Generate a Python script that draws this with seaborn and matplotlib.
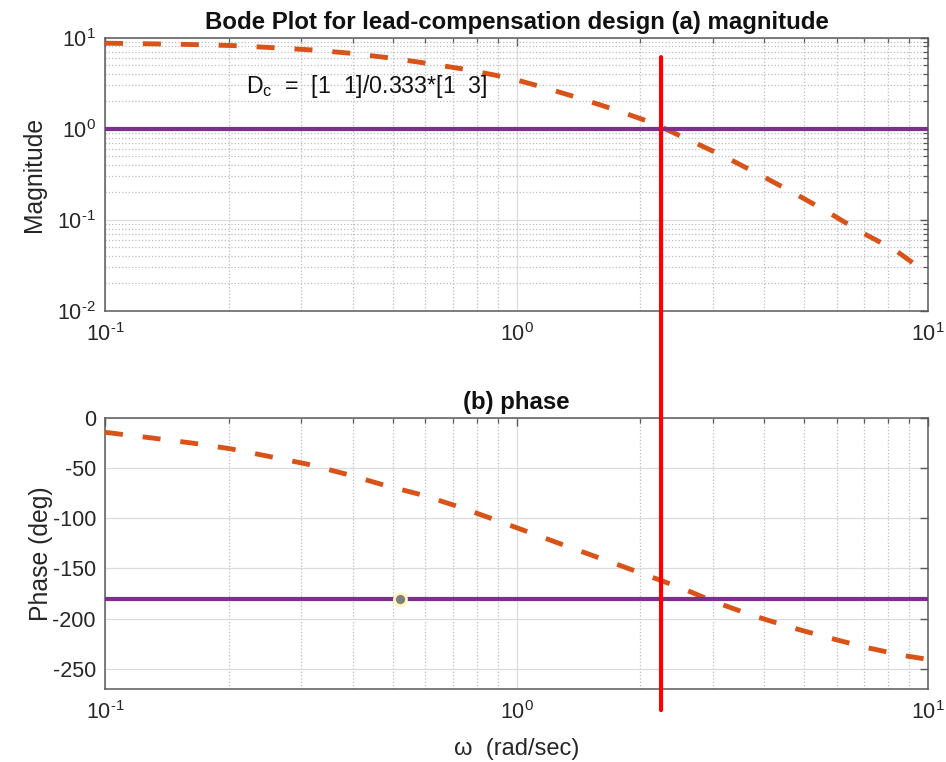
import seaborn as sns
import matplotlib.pyplot as plt
import numpy as np
from matplotlib.patches import ConnectionPatch
from matplotlib.ticker import LogLocator, MultipleLocator, NullFormatter, FuncFormatter

# magnitude curve
w_mag = [0.100, 0.1315, 0.1637, 0.2037, 0.253, 0.317, 0.392, 0.484, 0.602, 0.746,
         0.959, 1.154, 1.419, 1.746, 2.136, 2.63, 3.22, 3.91, 4.73, 5.72,
         6.88, 8.32, 10.0]
mag = [8.68, 8.53, 8.38, 8.17, 7.77, 7.32, 6.75, 6.03, 5.24, 4.50,
       3.61, 2.87, 2.17, 1.60, 1.16, 0.750, 0.488, 0.310, 0.196, 0.121,
       0.0732, 0.0465, 0.0255]

# phase curve
w_ph = [0.100, 0.1309, 0.1633, 0.2024, 0.2518, 0.311, 0.387, 0.476, 0.591, 0.725,
        0.892, 1.094, 1.342, 1.652, 2.026, 2.485, 3.05, 3.76, 4.65, 5.70,
        7.08, 8.81, 10.0]
phase = [-14.5, -20.3, -25.3, -31.0, -38.7, -46.3, -56.3, -67.0, -77.0, -88.7,
         -102.0, -115.3, -128.7, -142.0, -155.3, -168.7, -183.7, -197.0, -208.7, -218.7,
         -228.7, -237.0, -240.5]

mag_ref = 1.0
phase_ref = -180
w_c = 2.245          # crossover marker
red_top = 6.1        # red line top end (magnitude axis)
red_bottom = -291    # red line bottom end (phase axis)
w_dot = 0.52

orange = '#D95319'
purple = '#7E2F8E'
axcol = '#5A5A5A'
txtcol = '#262626'

sns.set_style('white')
plt.rcParams['font.family'] = ['Liberation Sans', 'DejaVu Sans']
plt.rcParams['mathtext.fontset'] = 'custom'
plt.rcParams['mathtext.rm'] = 'Liberation Sans'
plt.rcParams['mathtext.it'] = 'Liberation Sans:italic'
plt.rcParams['mathtext.bf'] = 'Liberation Sans:bold'
plt.rcParams['axes.unicode_minus'] = False


def pow10(v, pos):
    e = int(round(np.log10(v)))
    return r'$10^{\text{%d}}$' % e


fig = plt.figure(figsize=(9.46, 7.62), dpi=100)
ax1 = fig.add_axes([0.111, 0.592, 0.870, 0.3587])
ax2 = fig.add_axes([0.111, 0.0958, 0.870, 0.356])

# ---- (a) magnitude
sns.lineplot(x=w_mag, y=mag, ax=ax1, color=orange, lw=3.5,
             linestyle=(0, (3.7, 4.1)), estimator=None, zorder=3)
ax1.axhline(mag_ref, color=purple, lw=3, zorder=4)
ax1.set_xscale('log')
ax1.set_yscale('log')
ax1.set_xlim(0.1, 10)
ax1.set_ylim(0.01, 10)
ax1.yaxis.set_major_locator(LogLocator(base=10, numticks=10))
ax1.yaxis.set_minor_locator(LogLocator(base=10, subs=np.arange(2, 10), numticks=10))
ax1.yaxis.set_minor_formatter(NullFormatter())
ax1.yaxis.set_major_formatter(FuncFormatter(pow10))
ax1.text(0.22, 2.9, r'D$_{\rm c}$  =  [1  1]/0.333*[1  3]', fontsize=16.7,
         color='#111111', va='center', ha='left', zorder=5)
ax1.set_title('Bode Plot for lead-compensation design (a) magnitude',
              fontsize=17.3, fontweight='bold', color='#111111', pad=6)
ax1.set_ylabel('Magnitude', fontsize=17.8, color=txtcol)
ax1.yaxis.set_label_coords(-0.072, 0.5)
ax1.grid(True, which='major', color='#DCDCDC', lw=0.9, ls='-')
ax1.grid(True, which='minor', color='#BDBDBD', lw=0.9, ls=':')

# ---- (b) phase
sns.lineplot(x=w_ph, y=phase, ax=ax2, color=orange, lw=3.5,
             linestyle=(0, (3.7, 4.1)), estimator=None, zorder=3)
ax2.axhline(phase_ref, color=purple, lw=3, zorder=4)
ax2.scatter([w_dot], [phase_ref], s=75, color='#808080', edgecolors='#FFF8C0',
            linewidths=2, zorder=6)
ax2.set_xscale('log')
ax2.set_xlim(0.1, 10)
ax2.set_ylim(-270, 0)
ax2.yaxis.set_major_locator(MultipleLocator(50))
ax2.set_title('(b) phase', fontsize=17.3, fontweight='bold', color='#111111', pad=6)
ax2.set_ylabel('Phase (deg)', fontsize=17.8, color=txtcol)
ax2.yaxis.set_label_coords(-0.063, 0.5)
ax2.set_xlabel('ω  (rad/sec)', fontsize=17, color=txtcol, labelpad=10)
ax2.grid(True, which='major', color='#DCDCDC', lw=0.9, ls='-')
ax2.grid(True, which='minor', axis='x', color='#BDBDBD', lw=0.9, ls=':')

for ax in (ax1, ax2):
    ax.xaxis.set_major_formatter(FuncFormatter(pow10))
    ax.xaxis.set_minor_formatter(NullFormatter())
    ax.tick_params(which='both', direction='in', top=True, right=True,
                   colors=axcol, labelcolor=txtcol, labelsize=15.5)
    ax.tick_params(which='major', length=6, width=1)
    ax.tick_params(which='minor', length=3.5, width=0.9)
    ax.tick_params(axis='x', pad=9)
    ax.tick_params(axis='y', pad=6.5)
    for sp in ax.spines.values():
        sp.set_color(axcol)
        sp.set_linewidth(1.1)
    ax.set_axisbelow(True)

# red vertical marker spanning both panels
con = ConnectionPatch(xyA=(w_c, red_top), coordsA=ax1.transData,
                      xyB=(w_c, red_bottom), coordsB=ax2.transData,
                      color='#FF0000', lw=3, zorder=10)
fig.add_artist(con)

fig.savefig('out.png', dpi=100, facecolor='white')
